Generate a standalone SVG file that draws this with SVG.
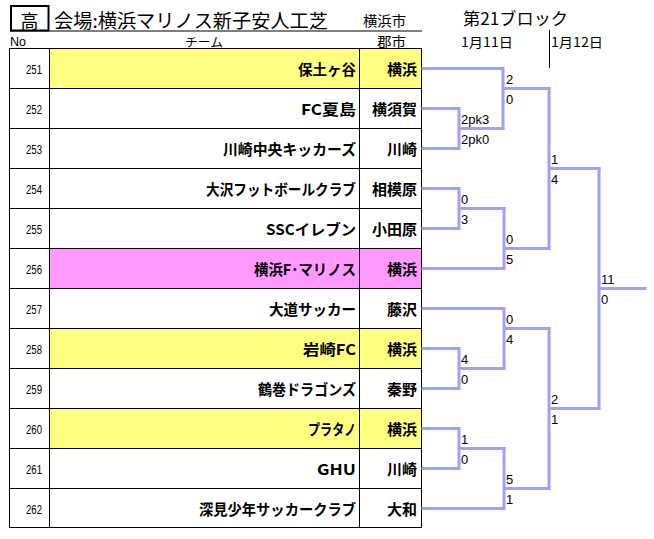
<svg xmlns="http://www.w3.org/2000/svg" width="654" height="539" viewBox="0 0 654 539">
<style>
.jp{font-family:"Noto Sans CJK JP","Liberation Sans",sans-serif;fill:#000}
.team{font-family:"Noto Sans CJK JP","Liberation Sans",sans-serif;font-size:15px;font-weight:bold;text-anchor:end;fill:#000}
.city{font-family:"Noto Sans CJK JP","Liberation Sans",sans-serif;font-size:15px;font-weight:bold;text-anchor:end;fill:#000}
.no{font-family:"Liberation Sans",sans-serif;font-size:12.5px;text-anchor:end;fill:#000}
.sc{font-family:"Liberation Sans",sans-serif;font-size:13px;fill:#000}
.grid{stroke:#000;stroke-width:1;fill:none}
.br{stroke:#a0a0fa;stroke-width:3;fill:none;stroke-linecap:square}
.yel{fill:#ffff80}
.pink{fill:#ff99ff}
</style>
<rect width="654" height="539" fill="#fff"/>
<g id="header">
<rect x="11" y="6" width="37.5" height="24.5" fill="none" stroke="#000" stroke-width="2"/>
<text class="jp" x="29.5" y="27.5" font-size="18" text-anchor="middle">高</text>
<text class="jp" x="54" y="27.5" font-size="19" textLength="274" lengthAdjust="spacingAndGlyphs">会場:横浜マリノス新子安人工芝</text>
<line x1="10" y1="31" x2="422" y2="31" stroke="#000" stroke-width="1.2"/>
<text class="jp" x="363" y="26" font-size="14" textLength="43" lengthAdjust="spacingAndGlyphs">横浜市</text>
<text x="10" y="46" font-family="Liberation Sans,sans-serif" font-size="12" textLength="16" lengthAdjust="spacingAndGlyphs">No</text>
<text class="jp" x="204" y="46.5" font-size="12" text-anchor="middle" textLength="38" lengthAdjust="spacingAndGlyphs">チーム</text>
<text class="jp" x="377" y="46.5" font-size="14" textLength="29" lengthAdjust="spacingAndGlyphs">郡市</text>
<text class="jp" x="463" y="25" font-size="17" textLength="105" lengthAdjust="spacingAndGlyphs">第21ブロック</text>
<text class="jp" x="461" y="46.5" font-size="13" textLength="52" lengthAdjust="spacingAndGlyphs">1月11日</text>
<text class="jp" x="551" y="46.5" font-size="13" textLength="52" lengthAdjust="spacingAndGlyphs">1月12日</text>
<line x1="549.5" y1="30" x2="549.5" y2="68" stroke="#000" stroke-width="1"/>
</g>
<g id="fills">
<rect class="yel" x="49.5" y="48.5" width="372" height="40"/>
<rect class="pink" x="49.5" y="248.5" width="372" height="40"/>
<rect class="yel" x="49.5" y="328.5" width="372" height="40"/>
<rect class="yel" x="49.5" y="408.5" width="372" height="40"/>
</g>
<g id="grid" class="grid">
<rect x="9.5" y="48.5" width="412" height="479"/>
<path d="M49.5,48.5V527.5M359.5,48.5V527.5M9.5,88.5H421.5M9.5,128.5H421.5M9.5,168.5H421.5M9.5,208.5H421.5M9.5,248.5H421.5M9.5,288.5H421.5M9.5,328.5H421.5M9.5,368.5H421.5M9.5,408.5H421.5M9.5,448.5H421.5M9.5,488.5H421.5"/>
</g>
<g id="n251"><text class="no" x="42" y="74" textLength="16" lengthAdjust="spacingAndGlyphs">251</text><text class="team" x="356" y="74.5" textLength="58" lengthAdjust="spacingAndGlyphs">保土ヶ谷</text><text class="city" x="417" y="74.5">横浜</text></g>
<g id="n252"><text class="no" x="42" y="114" textLength="16" lengthAdjust="spacingAndGlyphs">252</text><text class="team" x="356" y="114.5" textLength="55" lengthAdjust="spacingAndGlyphs">FC夏島</text><text class="city" x="417" y="114.5">横須賀</text></g>
<g id="n253"><text class="no" x="42" y="154" textLength="16" lengthAdjust="spacingAndGlyphs">253</text><text class="team" x="356" y="154.5" textLength="133" lengthAdjust="spacingAndGlyphs">川崎中央キッカーズ</text><text class="city" x="417" y="154.5">川崎</text></g>
<g id="n254"><text class="no" x="42" y="194" textLength="16" lengthAdjust="spacingAndGlyphs">254</text><text class="team" x="356" y="194.5" textLength="150" lengthAdjust="spacingAndGlyphs">大沢フットボールクラブ</text><text class="city" x="417" y="194.5">相模原</text></g>
<g id="n255"><text class="no" x="42" y="234" textLength="16" lengthAdjust="spacingAndGlyphs">255</text><text class="team" x="356" y="234.5" textLength="90" lengthAdjust="spacingAndGlyphs">SSCイレブン</text><text class="city" x="417" y="234.5">小田原</text></g>
<g id="n256"><text class="no" x="42" y="274" textLength="16" lengthAdjust="spacingAndGlyphs">256</text><text class="team" x="356" y="274.5" textLength="102" lengthAdjust="spacingAndGlyphs">横浜F･マリノス</text><text class="city" x="417" y="274.5">横浜</text></g>
<g id="n257"><text class="no" x="42" y="314" textLength="16" lengthAdjust="spacingAndGlyphs">257</text><text class="team" x="356" y="314.5" textLength="87" lengthAdjust="spacingAndGlyphs">大道サッカー</text><text class="city" x="417" y="314.5">藤沢</text></g>
<g id="n258"><text class="no" x="42" y="354" textLength="16" lengthAdjust="spacingAndGlyphs">258</text><text class="team" x="356" y="354.5" textLength="53" lengthAdjust="spacingAndGlyphs">岩崎FC</text><text class="city" x="417" y="354.5">横浜</text></g>
<g id="n259"><text class="no" x="42" y="394" textLength="16" lengthAdjust="spacingAndGlyphs">259</text><text class="team" x="356" y="394.5" textLength="98" lengthAdjust="spacingAndGlyphs">鶴巻ドラゴンズ</text><text class="city" x="417" y="394.5">秦野</text></g>
<g id="n260"><text class="no" x="42" y="434" textLength="16" lengthAdjust="spacingAndGlyphs">260</text><text class="team" x="356" y="434.5" textLength="48" lengthAdjust="spacingAndGlyphs">プラタノ</text><text class="city" x="417" y="434.5">横浜</text></g>
<g id="n261"><text class="no" x="42" y="474" textLength="16" lengthAdjust="spacingAndGlyphs">261</text><text class="team" x="356" y="474.5" textLength="39" lengthAdjust="spacingAndGlyphs">GHU</text><text class="city" x="417" y="474.5">川崎</text></g>
<g id="n262"><text class="no" x="42" y="514" textLength="16" lengthAdjust="spacingAndGlyphs">262</text><text class="team" x="356" y="514.5" textLength="157" lengthAdjust="spacingAndGlyphs">深見少年サッカークラブ</text><text class="city" x="417" y="514.5">大和</text></g>
<g id="connectors" class="br">
<path d="M423,108.5H459V148.5H423M459,128.5H503"/>
<path d="M423,188.5H459V228.5H423M459,208.5H504"/>
<path d="M423,348.5H459V388.5H423M459,368.5H504"/>
<path d="M423,428.5H459V468.5H423M459,448.5H504"/>
<path d="M423,68.5H503V128.5M503,88.5H549"/>
<path d="M504,208.5V268.5H423M504,248.5H549"/>
<path d="M423,308.5H504V368.5M504,328.5H549"/>
<path d="M504,448.5V508.5H423M504,488.5H549"/>
<path d="M549,88.5V248.5M549,168.5H599"/>
<path d="M549,328.5V488.5M549,408.5H599"/>
<path d="M599,168.5V408.5M599,288.5H645"/>
</g>
<g id="scores">
<text class="sc" x="461" y="124">2pk3</text><text class="sc" x="461" y="144">2pk0</text>
<text class="sc" x="461" y="204">0</text><text class="sc" x="461" y="224">3</text>
<text class="sc" x="461" y="364">4</text><text class="sc" x="461" y="384">0</text>
<text class="sc" x="461" y="444">1</text><text class="sc" x="461" y="464">0</text>
<text class="sc" x="506" y="84">2</text><text class="sc" x="506" y="104">0</text>
<text class="sc" x="506" y="244">0</text><text class="sc" x="506" y="264">5</text>
<text class="sc" x="506" y="324">0</text><text class="sc" x="506" y="344">4</text>
<text class="sc" x="506" y="484">5</text><text class="sc" x="506" y="504">1</text>
<text class="sc" x="551" y="164">1</text><text class="sc" x="551" y="184">4</text>
<text class="sc" x="551" y="404">2</text><text class="sc" x="551" y="424">1</text>
<text class="sc" x="601" y="284">11</text><text class="sc" x="601" y="304">0</text>
</g>
</svg>
